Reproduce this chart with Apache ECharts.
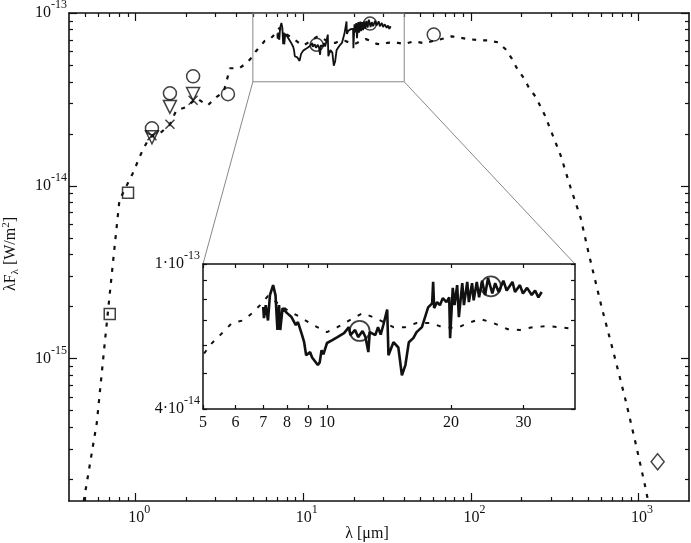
<!DOCTYPE html>
<html>
<head>
<meta charset="utf-8">
<script src="https://cdn.jsdelivr.net/npm/echarts@6/dist/echarts.min.js"></script>
<style>
html, body { margin: 0; padding: 0; background: #fff; }
#chart { width: 691px; height: 543px; }
</style>
</head>
<body>
<div id="chart"></div>
<script>
// model SED (dotted curve), wavelength in micron, lambda*F_lambda in W/m^2
const modelWave = [0.49, 0.586, 0.663, 0.74, 0.80, 0.96, 1.10, 1.21, 1.39, 1.59, 1.75, 2.0, 2.31, 2.69, 3.03,
  3.35, 3.5, 3.65, 4.16, 4.64, 5.0, 5.2, 5.44, 5.88, 6.25, 6.58, 6.88, 7.19, 7.6, 8.0, 8.6, 9.25, 10.0, 10.6,
  11.6, 12.2, 13.1, 14.5, 15.5, 16.5, 17.8, 19.1, 20.7, 22.0, 23.6, 25.3, 27.5, 29.4, 31.6, 34.2, 36.8, 40,
  45.8, 52.5, 60, 66, 77, 93, 112, 125, 145, 161, 175, 188, 207, 221, 244, 276, 343, 394, 452, 504, 602, 710,
  837, 960, 1100, 1140];
const modelFlux = [1.5e-16, 4.25e-16, 1.41e-15, 4.0e-15, 8.26e-15, 1.18e-14, 1.61e-14, 1.91e-14, 2.01e-14,
  2.24e-14, 2.74e-14, 2.85e-14, 3.21e-14, 2.92e-14, 3.26e-14, 3.5e-14, 4.1e-14, 4.79e-14, 4.79e-14, 5.19e-14,
  5.62e-14, 5.99e-14, 6.3e-14, 6.89e-14, 7.0e-14, 7.33e-14, 7.71e-14, 8.17e-14, 7.8e-14, 7.48e-14, 7.15e-14,
  6.8e-14, 6.5e-14, 6.71e-14, 7.11e-14, 7.33e-14, 7.11e-14, 6.71e-14, 6.71e-14, 6.89e-14, 6.89e-14, 6.71e-14,
  6.67e-14, 6.89e-14, 7.06e-14, 6.89e-14, 6.62e-14, 6.59e-14, 6.71e-14, 6.75e-14, 6.71e-14, 6.62e-14,
  6.86e-14, 6.68e-14, 6.9e-14, 7.05e-14, 7.33e-14, 7.1e-14, 6.95e-14, 6.95e-14, 6.77e-14, 6.17e-14, 5.47e-14,
  4.79e-14, 4.19e-14, 3.72e-14, 3.26e-14, 2.56e-14, 1.5e-14, 9.7e-15, 6.5e-15, 4.07e-15, 1.99e-15, 1.08e-15,
  5.75e-16, 3.25e-16, 1.79e-16, 1.5e-16];

// mid-IR spectrum (solid)
const specWave = [7.00, 7.03, 7.10, 7.19, 7.27, 7.40, 7.50, 7.58, 7.65, 7.70, 7.80, 8.0, 8.2, 8.4, 8.5, 8.7,
  8.8, 8.9, 9.1, 9.2, 9.5, 9.6, 9.7, 9.8, 10.0, 10.3, 10.6, 11.0, 11.3, 11.4, 11.7, 11.9, 12.2, 12.4, 12.6,
  12.7, 13.1, 13.3, 13.5, 13.7, 14.0, 14.1, 14.5, 14.9, 15.2, 15.5, 15.8, 16.2, 16.5, 16.6, 17.0, 17.3, 17.6,
  18.0, 18.1, 18.2, 18.5, 18.8, 19.1, 19.5, 19.8, 19.9, 20.2, 20.4, 20.7, 20.9, 21.3, 21.5, 21.9, 22.1, 22.5,
  22.7, 23.1, 23.4, 23.8, 24.2, 24.6, 25.2, 25.6, 26.1, 26.8, 27.3, 28.2, 28.6, 29.4, 29.9, 30.6, 31.4, 32.0,
  32.6, 33.2];
const specFlux = [7.62e-14, 7.10e-14, 7.71e-14, 7.00e-14, 8.22e-14, 8.75e-14, 8.20e-14, 6.59e-14, 7.71e-14,
  6.59e-14, 7.57e-14, 7.33e-14, 7.15e-14, 6.80e-14, 6.93e-14, 6.38e-14, 6.10e-14, 5.62e-14, 5.73e-14,
  5.54e-14, 5.28e-14, 5.37e-14, 5.80e-14, 5.65e-14, 6.07e-14, 6.18e-14, 6.30e-14, 6.46e-14, 6.71e-14,
  6.38e-14, 6.59e-14, 6.30e-14, 6.55e-14, 6.30e-14, 5.73e-14, 6.50e-14, 6.38e-14, 6.71e-14, 6.40e-14,
  6.80e-14, 7.50e-14, 5.62e-14, 6.10e-14, 5.90e-14, 4.95e-14, 5.28e-14, 6.10e-14, 6.26e-14, 6.50e-14,
  6.45e-14, 6.71e-14, 7.15e-14, 7.60e-14, 7.80e-14, 8.93e-14, 7.57e-14, 7.86e-14, 7.71e-14, 8.06e-14,
  7.86e-14, 8.10e-14, 6.26e-14, 8.60e-14, 7.71e-14, 8.75e-14, 7.15e-14, 8.86e-14, 7.71e-14, 8.93e-14,
  7.86e-14, 8.86e-14, 7.95e-14, 8.93e-14, 8.10e-14, 9.00e-14, 8.22e-14, 9.15e-14, 8.30e-14, 8.86e-14,
  8.38e-14, 9.00e-14, 8.46e-14, 8.93e-14, 8.38e-14, 8.75e-14, 8.30e-14, 8.60e-14, 8.22e-14, 8.46e-14,
  8.10e-14, 8.38e-14];

// photometry
const circleWave = [1.25, 1.6, 2.2, 3.55, 12, 25, 60];
const circleFlux = [2.15e-14, 3.43e-14, 4.3e-14, 3.39e-14, 6.55e-14, 8.68e-14, 7.5e-14];
const triWave = [1.25, 1.6, 2.2];
const triFlux = [1.91e-14, 2.86e-14, 3.4e-14];
const crossWave = [1.25, 1.6, 2.2];
const crossFlux = [1.95e-14, 2.27e-14, 3.13e-14];
const squareWave = [0.70, 0.90];
const squareFlux = [1.81e-15, 9.12e-15];
const diamondWave = [1300];
const diamondFlux = [2.53e-16];

// axes
const xRange = [0.4, 2000];
const yRange = [1.5e-16, 1e-13];
const xMajorTicks = [1, 10, 100, 1000];
const xMinorTicks = [0.5, 0.6, 0.7, 0.8, 0.9, 2, 3, 4, 5, 6, 7, 8, 9, 20, 30, 40, 50, 60, 70, 80, 90,
  200, 300, 400, 500, 600, 700, 800, 900];
const yMajorTicks = [1e-15, 1e-14, 1e-13];
const yMinorTicks = [2e-16, 3e-16, 4e-16, 5e-16, 6e-16, 7e-16, 8e-16, 9e-16, 2e-15, 3e-15, 4e-15, 5e-15,
  6e-15, 7e-15, 8e-15, 9e-15, 2e-14, 3e-14, 4e-14, 5e-14, 6e-14, 7e-14, 8e-14, 9e-14];
const insetXRange = [5, 40];
const insetYRange = [4e-14, 1e-13];
const insetXTicks = [5, 6, 7, 8, 9, 10, 20, 30];
const insetYTicks = [4e-14, 5e-14, 6e-14, 7e-14, 8e-14, 9e-14, 1e-13];
const insetYLabels = [4e-14, 1e-13];

const FONT = 'Liberation Serif';
const INK = '#111';
const lg = v => Math.log10(v);
const pairs = (xs, ys) => xs.map((x, i) => [x, ys[i]]);

const mainRect = { left: 69, top: 13, width: 620, height: 488 };
const insetRect = { left: 203, top: 264, width: 372, height: 145 };

const richPow = {
  b: { fontFamily: FONT, fontSize: 16, color: INK },
  s: { fontFamily: FONT, fontSize: 12, color: INK, padding: [0, 0, 16, 0] }
};
const richPowX = {
  b: { fontFamily: FONT, fontSize: 16, color: INK, padding: [0, 0, 0, 7] },
  s: { fontFamily: FONT, fontSize: 12, color: INK, padding: [0, 0, 16, 0] }
};

function lineAxis(grid, pos, range, width) {
  return {
    type: 'log', gridIndex: grid, position: pos, min: range[0], max: range[1],
    axisLine: { show: true, onZero: false, lineStyle: { color: INK, width: width } },
    axisTick: { show: false }, axisLabel: { show: false }, splitLine: { show: false }
  };
}

// value axes in log10 space, used only to draw ticks and labels over the log axes
function tickAxis(grid, pos, range, ticks, len, labels, formatter, margin, rich) {
  return {
    type: 'value', gridIndex: grid, position: pos, min: lg(range[0]), max: lg(range[1]),
    axisLine: { show: false, onZero: false },
    axisTick: { show: true, inside: true, length: len, customValues: ticks.map(lg),
      lineStyle: { color: INK, width: 1.2 } },
    axisLabel: labels ? {
      show: true, customValues: labels.map(lg), formatter: formatter, margin: margin,
      fontFamily: FONT, fontSize: 16, color: INK, rich: rich
    } : { show: false },
    splitLine: { show: false }
  };
}

const powFmt = v => '{b|10}{s|' + Math.round(v) + '}';
const insetYFmt = v => {
  const e = Math.floor(v + 1e-9);
  const m = Math.round(Math.pow(10, v - e));
  return '{b|' + m + '·10}{s|' + e + '}';
};
const plainFmt = v => String(Math.round(Math.pow(10, v)));

const xAxes = [
  lineAxis(0, 'bottom', xRange, 1.6),
  lineAxis(0, 'top', xRange, 1.6),
  Object.assign(tickAxis(1, 'bottom', xRange, xMajorTicks, 8, xMajorTicks, powFmt, 3, richPowX), {
    name: 'λ [μm]', nameLocation: 'middle', nameGap: 25, nameMoveOverlap: false,
    nameTextStyle: { fontFamily: FONT, fontSize: 16, color: INK, padding: [0, 24, 0, 0] }
  }),
  tickAxis(1, 'top', xRange, xMajorTicks, 8),
  tickAxis(2, 'bottom', xRange, xMinorTicks, 4),
  tickAxis(2, 'top', xRange, xMinorTicks, 4),
  lineAxis(3, 'bottom', insetXRange, 1.5),
  lineAxis(3, 'top', insetXRange, 1.5),
  tickAxis(4, 'bottom', insetXRange, insetXTicks, 4, insetXTicks, plainFmt, 6),
  tickAxis(4, 'top', insetXRange, insetXTicks, 4)
];

const yAxes = [
  lineAxis(0, 'left', yRange, 1.6),
  lineAxis(0, 'right', yRange, 1.6),
  Object.assign(tickAxis(1, 'left', yRange, yMajorTicks, 8, yMajorTicks, powFmt, 2, richPow), {
    name: 'λF{sub|λ} [W/m{sup|2}]', nameLocation: 'middle', nameRotate: 90, nameGap: 48, nameMoveOverlap: false,
    nameTextStyle: { fontFamily: FONT, fontSize: 16, color: INK, padding: [0, 0, 0, 6], rich: {
      sub: { fontFamily: FONT, fontSize: 11, color: INK, padding: [8, 0, 0, 0] },
      sup: { fontFamily: FONT, fontSize: 11, color: INK, padding: [0, 0, 9, 0] }
    } }
  }),
  tickAxis(1, 'right', yRange, yMajorTicks, 8),
  tickAxis(2, 'left', yRange, yMinorTicks, 4),
  tickAxis(2, 'right', yRange, yMinorTicks, 4),
  lineAxis(3, 'left', insetYRange, 1.5),
  lineAxis(3, 'right', insetYRange, 1.5),
  tickAxis(4, 'left', insetYRange, insetYTicks, 4, insetYLabels, insetYFmt, 3, richPow),
  tickAxis(4, 'right', insetYRange, insetYTicks, 4)
];

const hollow = { color: 'rgba(0,0,0,0)', borderColor: INK, borderWidth: 1.5 };
const inInset = ([x, y]) => x >= insetXRange[0] && x <= insetXRange[1] && y >= insetYRange[0] && y <= insetYRange[1];

const chart = echarts.init(document.getElementById('chart'), null, { renderer: 'canvas' });
chart.setOption({
  animation: false,
  backgroundColor: '#fff',
  grid: [mainRect, mainRect, mainRect, insetRect, insetRect].map(r =>
    Object.assign({ containLabel: false, outerBoundsMode: 'none' }, r)),
  xAxis: xAxes,
  yAxis: yAxes,
  series: [
    { type: 'line', xAxisIndex: 0, yAxisIndex: 0, data: pairs(modelWave, modelFlux), symbol: 'none',
      lineStyle: { color: INK, width: 2.2, type: [4, 7] } },
    { type: 'line', xAxisIndex: 0, yAxisIndex: 0, data: pairs(specWave, specFlux), symbol: 'none',
      lineStyle: { color: INK, width: 1.8 } },
    { type: 'line', xAxisIndex: 0, yAxisIndex: 0, symbol: 'none',
      data: [[insetXRange[0], insetYRange[0]], [insetXRange[1], insetYRange[0]], [insetXRange[1], insetYRange[1]],
        [insetXRange[0], insetYRange[1]], [insetXRange[0], insetYRange[0]]],
      lineStyle: { color: '#888', width: 1 } },
    { type: 'scatter', xAxisIndex: 0, yAxisIndex: 0, data: pairs(circleWave, circleFlux), symbol: 'circle',
      symbolSize: 13, itemStyle: hollow },
    { type: 'scatter', xAxisIndex: 0, yAxisIndex: 0, data: pairs(triWave, triFlux), symbol: 'triangle',
      symbolRotate: 180, symbolSize: 13, itemStyle: hollow },
    { type: 'scatter', xAxisIndex: 0, yAxisIndex: 0, data: pairs(crossWave, crossFlux),
      symbol: 'path://M0,0L10,10M10,0L0,10', symbolSize: 9, itemStyle: hollow },
    { type: 'scatter', xAxisIndex: 0, yAxisIndex: 0, data: pairs(squareWave, squareFlux), symbol: 'rect',
      symbolSize: 11, itemStyle: hollow },
    { type: 'scatter', xAxisIndex: 0, yAxisIndex: 0, data: pairs(diamondWave, diamondFlux), symbol: 'diamond',
      symbolSize: [13, 16], itemStyle: hollow },
    // inset
    { type: 'line', xAxisIndex: 6, yAxisIndex: 6, data: pairs(modelWave, modelFlux), symbol: 'none',
      lineStyle: { color: INK, width: 2, type: [4, 8] }, z: 5 },
    { type: 'line', xAxisIndex: 6, yAxisIndex: 6, data: pairs(specWave, specFlux), symbol: 'none',
      lineStyle: { color: INK, width: 2.6 }, z: 5 },
    { type: 'scatter', xAxisIndex: 6, yAxisIndex: 6, data: pairs(circleWave, circleFlux).filter(inInset),
      symbol: 'circle', symbolSize: 20, itemStyle: { color: 'rgba(0,0,0,0)', borderColor: INK, borderWidth: 1.8 }, z: 6 }
  ]
});

// connector lines between zoom box and inset
const bl = chart.convertToPixel({ xAxisIndex: 0, yAxisIndex: 0 }, [insetXRange[0], insetYRange[0]]);
const br = chart.convertToPixel({ xAxisIndex: 0, yAxisIndex: 0 }, [insetXRange[1], insetYRange[0]]);
const tl = chart.convertToPixel({ xAxisIndex: 6, yAxisIndex: 6 }, [insetXRange[0], insetYRange[1]]);
const tr = chart.convertToPixel({ xAxisIndex: 6, yAxisIndex: 6 }, [insetXRange[1], insetYRange[1]]);
chart.setOption({
  graphic: [
    { type: 'line', silent: true, shape: { x1: bl[0], y1: bl[1], x2: tl[0], y2: tl[1] }, style: { stroke: '#888', lineWidth: 1 } },
    { type: 'line', silent: true, shape: { x1: br[0], y1: br[1], x2: tr[0], y2: tr[1] }, style: { stroke: '#888', lineWidth: 1 } }
  ]
});
</script>
</body>
</html>
